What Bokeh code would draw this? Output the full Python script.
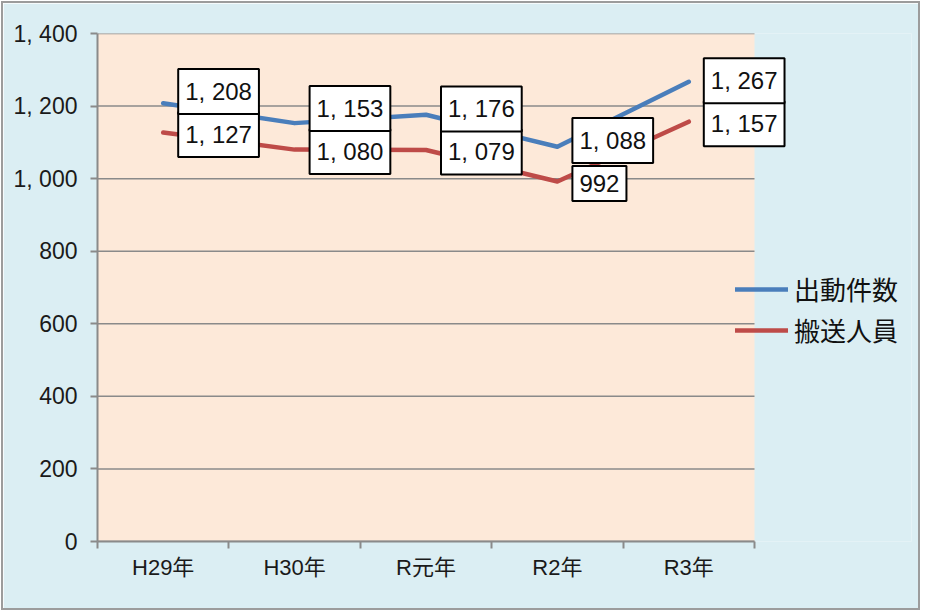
from bokeh.plotting import figure
from bokeh.models import FixedTicker, Label, Legend, LegendItem, Range1d
from bokeh.embed import file_html
from bokeh.resources import INLINE

categories = ["H29年", "H30年", "R元年", "R2年", "R3年"]
dispatches = [1208, 1153, 1176, 1088, 1267]
transported = [1127, 1080, 1079, 992, 1157]
series_names = ["出動件数", "搬送人員"]
y_ticks = [0, 200, 400, 600, 800, 1000, 1200, 1400]
y_tick_labels = ["0", "200", "400", "600", "800", "1, 000", "1, 200", "1, 400"]

FONT = "Noto Sans CJK JP"
NUMFONT = "'Liberation Sans', 'Noto Sans CJK JP'"
BLUE = "#4A7EBB"
RED = "#BE4B48"
GRAY = "#8a8a8a"
PEACH = "#FDE9D9"
AQUA = "#DBEEF3"


def fmt(v):
    return f"{v:,}".replace(",", ", ")


n = len(categories)
xs = list(range(n))

W, H = 919, 609
LEFT, TOP, RIGHT, BOTTOM = 94, 30, 11, 71
CAT_PX = 131.4
frame_w = W - LEFT - RIGHT
x_end = -0.5 + frame_w / CAT_PX

p = figure(
    width=W, height=H,
    x_range=Range1d(-0.5, x_end),
    y_range=Range1d(y_ticks[0], y_ticks[-1]),
    output_backend="svg", toolbar_location=None,
    min_border_left=LEFT, min_border_top=TOP, min_border_right=RIGHT, min_border_bottom=BOTTOM,
)
p.styles = {"margin-left": "1px", "margin-top": "1px", "border": "2px solid #9c9c9c"}
p.background_fill_color = AQUA
p.border_fill_color = AQUA
p.outline_line_color = None

# plot area background and gridlines
p.quad(left=-0.5, right=n - 0.5, bottom=y_ticks[0], top=y_ticks[-1],
       fill_color=PEACH, line_color=None)
p.segment(x0=[-0.5] * len(y_ticks), x1=[n - 0.5] * len(y_ticks), y0=y_ticks, y1=y_ticks,
          line_color=GRAY, line_width=1.5)

# axes
p.xaxis.bounds = (-0.5, n - 0.5)
p.xaxis.ticker = FixedTicker(ticks=xs, minor_ticks=[i - 0.5 for i in range(n + 1)])
p.xaxis.major_label_overrides = {i: c for i, c in enumerate(categories)}
p.xaxis.major_tick_line_color = None
p.xaxis.minor_tick_line_color = GRAY
p.xaxis.minor_tick_line_width = 2
p.xaxis.minor_tick_out = 7
p.xaxis.minor_tick_in = 0
p.xaxis.axis_line_color = GRAY
p.xaxis.axis_line_width = 2
p.xaxis.major_label_text_font = NUMFONT
p.xaxis.major_label_text_font_size = "22px"
p.xaxis.major_label_text_color = "#1a1a1a"
p.xaxis.major_label_standoff = 6

p.yaxis.ticker = FixedTicker(ticks=y_ticks, minor_ticks=[])
p.yaxis.major_label_overrides = {t: l for t, l in zip(y_ticks, y_tick_labels)}
p.yaxis.major_tick_line_color = GRAY
p.yaxis.major_tick_line_width = 2
p.yaxis.major_tick_out = 7
p.yaxis.major_tick_in = 0
p.yaxis.minor_tick_line_color = None
p.yaxis.axis_line_color = GRAY
p.yaxis.axis_line_width = 2
p.yaxis.major_label_text_font = NUMFONT
p.yaxis.major_label_text_font_size = "23px"
p.yaxis.major_label_text_color = "#1a1a1a"
p.yaxis.major_label_standoff = 13

p.xgrid.grid_line_color = None
p.ygrid.grid_line_color = None

r1 = p.line(xs, dispatches, line_color=BLUE, line_width=4.5, line_join="round", line_cap="round")
r2 = p.line(xs, transported, line_color=RED, line_width=4.5, line_join="round", line_cap="round")

# data labels
for i, (b, r) in enumerate(zip(dispatches, transported)):
    for val, ybase, yoff in ((r, r, -2), (b, r, 41)):
        p.add_layout(Label(
            x=i, y=ybase, x_offset=15, y_offset=yoff, text=fmt(val),
            text_font=NUMFONT, text_font_size="24px", text_color="#111111",
            text_align="left", text_baseline="middle",
            background_fill_color="white", border_line_color="black", border_line_width=2,
            padding=(7, 9),
        ))

legend = Legend(
    items=[LegendItem(label=series_names[0], renderers=[r1]),
           LegendItem(label=series_names[1], renderers=[r2])],
    location=(638, 193),
    label_text_font=FONT, label_text_font_size="26px", label_text_color="#111111",
    glyph_width=53, glyph_height=36, label_height=36, spacing=4,
    label_standoff=6, padding=0, margin=0,
    background_fill_alpha=0, border_line_color=None,
)
p.add_layout(legend)

open("out.html", "w").write(file_html(p, INLINE))
